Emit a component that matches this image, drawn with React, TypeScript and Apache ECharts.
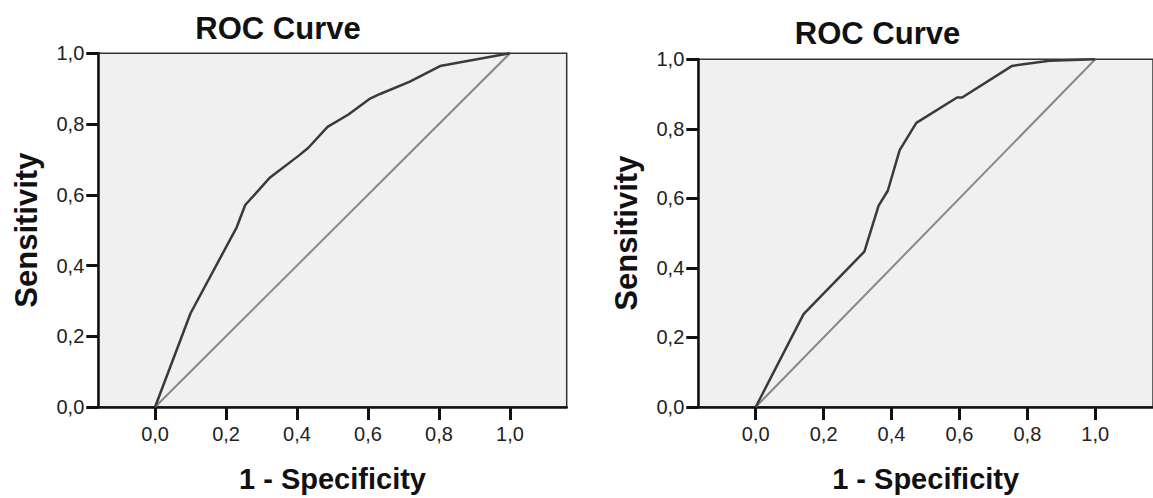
import React, { useEffect, useRef } from "react";
import * as echarts from "echarts";

const titles = ["ROC Curve", "ROC Curve"];
const xName = "1 - Specificity";
const yName = "Sensitivity";
const tickValues = [0, 0.2, 0.4, 0.6, 0.8, 1.0];

const leftX = [0, 0.1, 0.23, 0.254, 0.324, 0.404, 0.432, 0.486, 0.545, 0.606, 0.634, 0.718, 0.803, 1];
const leftY = [0, 0.265, 0.508, 0.571, 0.649, 0.71, 0.733, 0.792, 0.827, 0.872, 0.885, 0.92, 0.964, 1];

const rightX = [0, 0.141, 0.32, 0.362, 0.389, 0.424, 0.473, 0.593, 0.608, 0.755, 0.865, 1];
const rightY = [0, 0.267, 0.447, 0.579, 0.622, 0.739, 0.817, 0.89, 0.89, 0.981, 0.996, 1];

const refX = [0, 1];
const refY = [0, 1];

const xRanges = [
  [-0.16, 1.16],
  [-0.169, 1.17],
];

const FONT = "'Liberation Sans', Arial, Helvetica, sans-serif";
const fmt = (v: number) => v.toFixed(1).replace(".", ",");
const pairs = (xs: number[], ys: number[]) => xs.map((x, i) => [x, ys[i]]);

function xAxis(gridIndex: number) {
  return {
    type: "value",
    gridIndex,
    min: xRanges[gridIndex][0],
    max: xRanges[gridIndex][1],
    name: xName,
    nameLocation: "middle",
    nameGap: 57,
    nameTextStyle: { fontSize: 29, fontWeight: "bold", color: "#111", fontFamily: FONT },
    axisLine: { show: true, onZero: false, lineStyle: { color: "#111", width: 2.5 } },
    axisTick: { show: true, length: 13, customValues: tickValues, lineStyle: { color: "#111", width: 3 } },
    axisLabel: {
      customValues: tickValues,
      formatter: fmt,
      fontSize: 20,
      color: "#222",
      fontFamily: FONT,
      margin: 17,
    },
    splitLine: { show: false },
  };
}

function yAxis(gridIndex: number) {
  return {
    type: "value",
    gridIndex,
    min: 0,
    max: 1,
    interval: 0.2,
    name: yName,
    nameLocation: "middle",
    nameGap: 56,
    nameTextStyle: { fontSize: 31, fontWeight: "bold", color: "#111", fontFamily: FONT },
    axisLine: { show: true, onZero: false, lineStyle: { color: "#111", width: 2.5 } },
    axisTick: { show: true, length: 12, lineStyle: { color: "#111", width: 3 } },
    axisLabel: { formatter: fmt, fontSize: 20, color: "#222", fontFamily: FONT, margin: 14 },
    splitLine: { show: false },
  };
}

function curve(idx: number, xs: number[], ys: number[], color: string, width: number) {
  return {
    type: "line",
    xAxisIndex: idx,
    yAxisIndex: idx,
    data: pairs(xs, ys),
    showSymbol: false,
    symbol: "none",
    lineStyle: { color, width },
    clip: false,
    silent: true,
  };
}

const titleGraphics = [
  { type: "text", x: 278, y: 28, z: 10, style: { text: titles[0], textAlign: "center", textVerticalAlign: "middle", fontSize: 31, fontWeight: "bold", fill: "#111", fontFamily: FONT } },
  { type: "text", x: 877.5, y: 33, z: 10, style: { text: titles[1], textAlign: "center", textVerticalAlign: "middle", fontSize: 31, fontWeight: "bold", fill: "#111", fontFamily: FONT } },
];

export default function App() {
  const ref = useRef<HTMLDivElement>(null);
  useEffect(() => {
    const chart = echarts.init(ref.current!, null, { renderer: "svg" });
    chart.setOption({
      animation: false,
      backgroundColor: "#ffffff",
      grid: [
        { left: 98.3, top: 53.3, width: 468.4, height: 355.7, show: true, backgroundColor: "#f0f0f0", borderColor: "#333", borderWidth: 1.5 },
        { left: 698.3, top: 59.3, width: 468.5, height: 349.7, show: true, backgroundColor: "#f0f0f0", borderColor: "#333", borderWidth: 1.5 },
      ],
      xAxis: [xAxis(0), xAxis(1)],
      yAxis: [yAxis(0), yAxis(1)],
      series: [
        curve(0, refX, refY, "#888888", 2),
        curve(0, leftX, leftY, "#3a3a3a", 2.5),
        curve(1, refX, refY, "#888888", 2),
        curve(1, rightX, rightY, "#3a3a3a", 2.5),
      ],
      graphic: titleGraphics,
    });
    return () => chart.dispose();
  }, []);
  return (
    <div
      ref={ref}
      style={{ position: "absolute", left: 0, top: 0, width: 1153, height: 498, background: "#fff" }}
    />
  );
}
